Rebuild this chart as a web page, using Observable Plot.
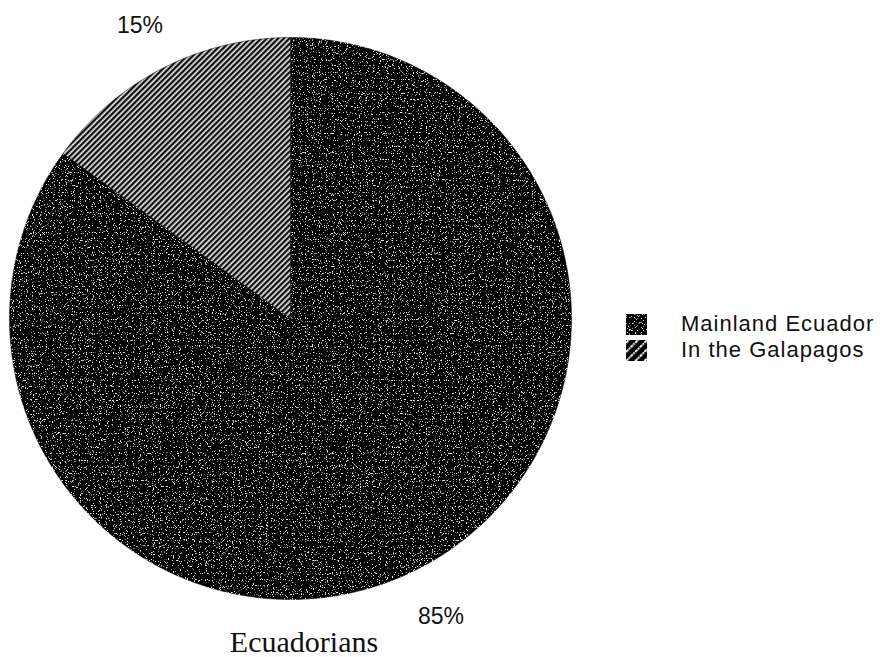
<!DOCTYPE html>
<html>
<head>
<meta charset="utf-8">
<script src="https://cdn.jsdelivr.net/npm/d3@7"></script>
<script src="https://cdn.jsdelivr.net/npm/@observablehq/plot@0.6"></script>
<style>
  html, body { margin: 0; padding: 0; background: #fff; }
  #wrap { position: relative; width: 890px; height: 657px; overflow: hidden; background:#fff; }
  #chart { position: absolute; left: 0; top: 0; }
  #legend { position: absolute; left: 626px; top: 311px; font-family: "Liberation Sans", Arial, sans-serif; font-size: 22px; letter-spacing: 1px; color: #111; }
  .item { display: flex; align-items: center; height: 26px; }
  .item svg { margin-right: 34px; }
  #title { position: absolute; left: 0; width: 608px; text-align: center; top: 628px; line-height: 28px; font-family: "Liberation Serif", "Times New Roman", serif; font-size: 30px; color: #111; }
</style>
</head>
<body>
<div id="wrap">
  <div id="chart"></div>
  <div id="legend"></div>
  <div id="title">Ecuadorians</div>
</div>
<script>
// ---- data ----
const categories = ["Mainland Ecuador", "In the Galapagos"];
const values = [85, 15];
const labels = ["85%", "15%"];

// ---- styles ----
const fillFor = {"Mainland Ecuador": "black", "In the Galapagos": "url(#hatch)"};

const table = categories.map((c, i) => ({category: c, value: values[i], label: labels[i]}));
const arcs = d3.pie().sort(null).value(d => d.value)(table);

// polygon outline of each slice (angles clockwise from 12 o'clock)
const N = 360;
const slices = arcs.map(a => {
  const pts = [{x: 0, y: 0}];
  for (let k = 0; k <= N; k++) {
    const t = a.startAngle + (a.endAngle - a.startAngle) * k / N;
    pts.push({x: Math.sin(t), y: Math.cos(t)});
  }
  pts.push({x: 0, y: 0});
  return {category: a.data.category, pts};
});
const labelPts = arcs.map(a => {
  const m = (a.startAngle + a.endAngle) / 2;
  return {label: a.data.label, x: 1.18 * Math.sin(m), y: 1.18 * Math.cos(m)};
});

const plot = Plot.plot({
  width: 890,
  height: 657,
  marginLeft: 9,
  marginRight: 319,
  marginTop: 37,
  marginBottom: 58,
  x: {domain: [-1, 1], axis: null},
  y: {domain: [-1, 1], axis: null},
  marks: [
    ...slices.map(s => Plot.line(s.pts, {x: "x", y: "y", fill: fillFor[s.category], stroke: "black", strokeWidth: 0.5})),
    Plot.text(labelPts, {x: "x", y: "y", text: "label", dy: 3, fontSize: 23, fill: "#111", fontFamily: "Liberation Sans, Arial, sans-serif"})
  ]
});

const defs = `
<defs>
  <pattern id="hatch" width="4" height="4" patternUnits="userSpaceOnUse" patternTransform="rotate(45)">
    <rect width="4" height="4" fill="black"/>
    <line x1="1.2" y1="0" x2="1.2" y2="4" stroke="white" stroke-width="1.9" stroke-dasharray="1.7 0.4"/>
  </pattern>
  <pattern id="hatch2" width="6.5" height="6.5" patternUnits="userSpaceOnUse" patternTransform="rotate(45)">
    <rect width="6.5" height="6.5" fill="black"/>
    <line x1="2" y1="0" x2="2" y2="6.5" stroke="white" stroke-width="2" stroke-dasharray="1.8 0.8"/>
  </pattern>
  <filter id="speckle" x="0" y="0" width="100%" height="100%">
    <feTurbulence type="fractalNoise" baseFrequency="0.85" numOctaves="1" seed="7" result="noise"/>
    <feColorMatrix in="noise" type="matrix" values="0 0 0 0 1  0 0 0 0 1  0 0 0 0 1  9 0 0 0 -5.5" result="dots"/>
    <feComposite in="dots" in2="SourceGraphic" operator="in" result="d2"/>
    <feMerge><feMergeNode in="SourceGraphic"/><feMergeNode in="d2"/></feMerge>
  </filter>
</defs>`;
plot.insertAdjacentHTML("afterbegin", defs);
d3.select(plot).selectAll("[fill='black']").filter(function(){ return this.tagName !== "rect"; }).attr("filter", "url(#speckle)");
document.getElementById("chart").appendChild(plot);

// legend
const legend = document.getElementById("legend");
categories.forEach(c => {
  const div = document.createElement("div");
  div.className = "item";
  const f = c === "Mainland Ecuador" ? 'fill="black" filter="url(#speckle)"' : 'fill="url(#hatch2)"';
  div.innerHTML = `<svg width="21" height="21"><rect x="0" y="0" width="21" height="21" ${f}/></svg><span>${c}</span>`;
  legend.appendChild(div);
});
</script>
</body>
</html>
